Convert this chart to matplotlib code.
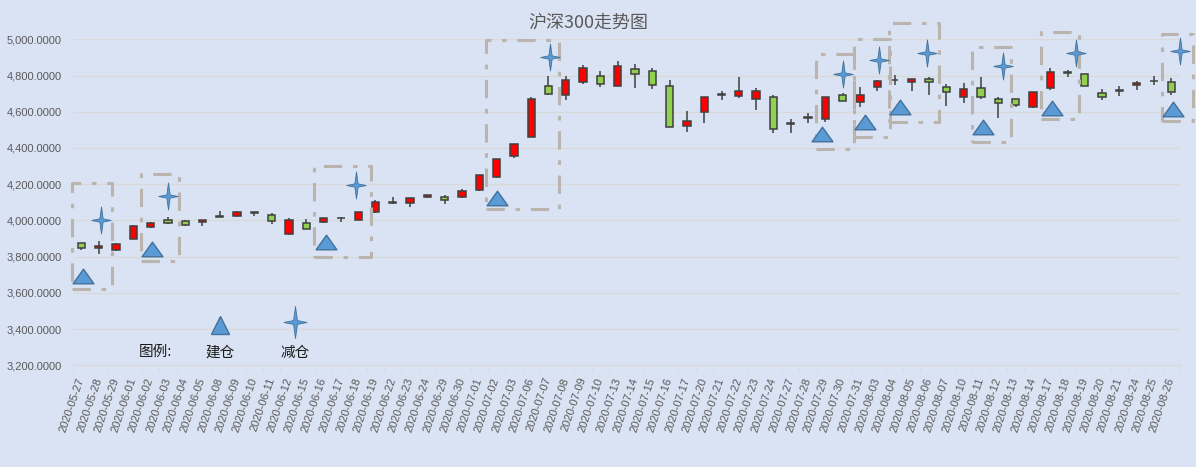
import numpy as np
import matplotlib
matplotlib.use("Agg")
import matplotlib.pyplot as plt
from matplotlib.path import Path

# ---- data ----
dates = ["2020-05-27", "2020-05-28", "2020-05-29",
         "2020-06-01", "2020-06-02", "2020-06-03", "2020-06-04", "2020-06-05",
         "2020-06-08", "2020-06-09", "2020-06-10", "2020-06-11", "2020-06-12",
         "2020-06-15", "2020-06-16", "2020-06-17", "2020-06-18", "2020-06-19",
         "2020-06-22", "2020-06-23", "2020-06-24", "2020-06-29", "2020-06-30",
         "2020-07-01", "2020-07-02", "2020-07-03", "2020-07-06", "2020-07-07",
         "2020-07-08", "2020-07-09", "2020-07-10", "2020-07-13", "2020-07-14",
         "2020-07-15", "2020-07-16", "2020-07-17", "2020-07-20", "2020-07-21",
         "2020-07-22", "2020-07-23", "2020-07-24", "2020-07-27", "2020-07-28",
         "2020-07-29", "2020-07-30", "2020-07-31", "2020-08-03", "2020-08-04",
         "2020-08-05", "2020-08-06", "2020-08-07", "2020-08-10", "2020-08-11",
         "2020-08-12", "2020-08-13", "2020-08-14", "2020-08-17", "2020-08-18",
         "2020-08-19", "2020-08-20", "2020-08-21", "2020-08-24", "2020-08-25",
         "2020-08-26"]
opens = [3873, 3845, 3836, 3900, 3966, 4003, 3995, 3990, 4020, 4027, 4044,
         4029, 3927, 3986, 3994, 4013, 4004, 4045, 4097, 4095, 4127, 4130,
         4128, 4170, 4240, 4355, 4463, 4740, 4690, 4767, 4797, 4742, 4835,
         4824, 4740, 4524, 4596, 4694, 4686, 4670, 4681, 4533, 4566, 4560,
         4690, 4653, 4736, 4774, 4766, 4780, 4739, 4681, 4730, 4671, 4670,
         4629, 4729, 4815, 4808, 4706, 4715, 4748, 4769, 4764]
highs = [3876, 3885, 3876, 3975, 3993, 4018, 4002, 4004, 4050, 4052, 4047,
         4043, 4012, 4007, 4014, 4017, 4047, 4112, 4128, 4125, 4142, 4139,
         4172, 4252, 4340, 4423, 4681, 4797, 4800, 4859, 4824, 4880, 4865,
         4841, 4775, 4603, 4682, 4717, 4791, 4730, 4692, 4561, 4592, 4682,
         4706, 4739, 4774, 4804, 4782, 4791, 4752, 4758, 4791, 4681, 4673,
         4710, 4841, 4831, 4809, 4725, 4741, 4771, 4798, 4784]
lows = [3835, 3817, 3830, 3900, 3958, 3982, 3970, 3968, 4018, 4018, 4023,
        3979, 3922, 3955, 3985, 3990, 4000, 4043, 4091, 4076, 4122, 4088,
        4125, 4161, 4235, 4347, 4460, 4690, 4667, 4756, 4736, 4741, 4730,
        4725, 4515, 4487, 4537, 4666, 4675, 4607, 4480, 4480, 4537, 4546,
        4657, 4625, 4717, 4747, 4712, 4690, 4634, 4648, 4671, 4565, 4625,
        4620, 4721, 4791, 4740, 4664, 4686, 4719, 4747, 4692]
closes = [3845, 3857, 3869, 3970, 3987, 3983, 3977, 4002, 4023, 4045, 4040,
          3996, 4001, 3955, 4012, 4016, 4044, 4100, 4099, 4123, 4138, 4111,
          4160, 4249, 4337, 4420, 4670, 4698, 4775, 4841, 4753, 4852, 4808,
          4745, 4515, 4548, 4681, 4696, 4716, 4716, 4504, 4537, 4570, 4681,
          4659, 4695, 4772, 4778, 4779, 4764, 4708, 4725, 4679, 4648, 4637,
          4708, 4819, 4820, 4742, 4681, 4718, 4757, 4772, 4708]

# 建仓 (triangles) and 减仓 (stars): position in category units, value
buy_pos = [0.10, 4.08, 14.12, 24.03, 42.80, 45.30, 47.32, 52.12, 56.10, 63.10]
buy_val = [3693, 3843, 3881, 4124, 4475, 4544, 4624, 4514, 4622, 4614]
sell_pos = [1.12, 5.03, 15.86, 27.11, 44.01, 46.09, 48.86, 53.25, 57.49, 63.51]
sell_val = [4003, 4137, 4196, 4902, 4811, 4887, 4927, 4850, 4924, 4937]

# dashed boxes around each trade: x0, x1 (category units), y0, y1
box_x0 = [-0.56, 3.43, 13.47, 23.39, 42.45, 44.64, 46.67, 51.47, 55.45, 62.45]
box_x1 = [1.79, 5.66, 16.74, 27.63, 44.68, 46.74, 49.59, 53.75, 57.68, 64.28]
box_y0 = [3622, 3776, 3798, 4064, 4395, 4463, 4546, 4432, 4561, 4550]
box_y1 = [4209, 4255, 4303, 4997, 4918, 5004, 5090, 4955, 5038, 5029]

# legend (图例) drawn inside the plot
legend_labels = ["建仓", "减仓"]
legend_pos = [8.0, 12.35]
legend_marker_val = [3423, 3441]
legend_text_val = 3268
legend_title_pos = 4.26
legend_title_val = 3275

yticks = np.arange(3200, 5001, 200)

# ---- styling ----
BG = "#DAE3F3"
UP = "#FF0000"
DOWN = "#92D050"
EDGE = "#404040"
MARK = "#5B9BD5"
MARK_EDGE = "#41719C"
TXT = "#595959"
NUM_FONT = ["Liberation Sans", "DejaVu Sans"]

plt.rcParams["font.family"] = ["Noto Sans CJK SC", "DejaVu Sans"]

tri = Path([(-1, -0.7), (1, -0.7), (0, 0.7), (-1, -0.7)],
           [Path.MOVETO, Path.LINETO, Path.LINETO, Path.CLOSEPOLY])
a, w = 0.72, 0.12
star = Path([(0, 1), (w, w), (a, 0), (w, -w), (0, -1), (-w, -w), (-a, 0),
             (-w, w), (0, 1)],
            [Path.MOVETO] + [Path.LINETO] * 7 + [Path.CLOSEPOLY])

fig = plt.figure(figsize=(11.96, 4.67), dpi=100, facecolor=BG)
ax = fig.add_axes([0.0608, 0.2178, 0.9258, 0.6980], facecolor=BG)

x = np.arange(len(dates))
o = np.array(opens, float)
c = np.array(closes, float)
colors = [UP if cc >= oo else DOWN for oo, cc in zip(o, c)]

ax.vlines(x, lows, highs, color=EDGE, lw=1.1, zorder=2)
ax.bar(x, np.maximum(np.abs(c - o), 1.5), bottom=np.minimum(o, c),
       width=0.42, color=colors, edgecolor=EDGE, lw=1.1, zorder=3)

for x0, x1, y0, y1 in zip(box_x0, box_x1, box_y0, box_y1):
    ax.plot([x0, x1, x1, x0, x0], [y0, y0, y1, y1, y0], color="#BAB4AF",
            lw=2.2, dashes=(6, 3.5, 1.5, 3.5), clip_on=False, zorder=4)

ax.plot(buy_pos, buy_val, ls="none", marker=tri, ms=15, mfc=MARK,
        mec=MARK_EDGE, mew=1, clip_on=False, zorder=5)
ax.plot(sell_pos, sell_val, ls="none", marker=star, ms=19.5, mfc=MARK,
        mec=MARK_EDGE, mew=0.6, clip_on=False, zorder=5)

# legend
ax.plot(legend_pos[0], legend_marker_val[0], marker="^", ms=13.5, mfc=MARK,
        mec=MARK_EDGE, mew=1, clip_on=False, zorder=5)
ax.plot(legend_pos[1], legend_marker_val[1], marker=star, ms=23, mfc=MARK,
        mec=MARK_EDGE, mew=0.6, clip_on=False, zorder=5)
ax.text(legend_title_pos, legend_title_val, "图例:", ha="center", va="center",
        fontsize=10.5, color="#1a1a1a")
for p, lab in zip(legend_pos, legend_labels):
    ax.text(p, legend_text_val, lab, ha="center", va="center",
            fontsize=10.5, color="#1a1a1a")

ax.set_xlim(-0.5, len(dates) - 0.5)
ax.set_ylim(3200, 5000)
ax.set_yticks(yticks)
ax.set_yticklabels([f"{v:,.4f}" for v in yticks], family=NUM_FONT,
                   fontsize=8, color=TXT)
ax.tick_params(axis="y", length=0, pad=8)
ax.grid(axis="y", color="#D9D9D9", lw=1)
ax.set_axisbelow(True)

ax.set_xticks(x)
ax.set_xticklabels(dates, rotation=71, ha="right", va="center",
                   rotation_mode="anchor", family=NUM_FONT, fontsize=8,
                   color=TXT)
ax.set_xticks(np.arange(-0.5, len(dates)), minor=True)
ax.tick_params(axis="x", which="major", length=0, pad=9)
ax.tick_params(axis="x", which="minor", length=4, color="#D9D9D9")

for s in ["top", "right", "left"]:
    ax.spines[s].set_visible(False)
ax.spines["bottom"].set_color("#D9D9D9")

fig.text(0.4916, 0.951, "沪深300走势图", ha="center", va="center",
         fontsize=13, color=TXT)

fig.savefig("out.png", dpi=100, facecolor=BG)
